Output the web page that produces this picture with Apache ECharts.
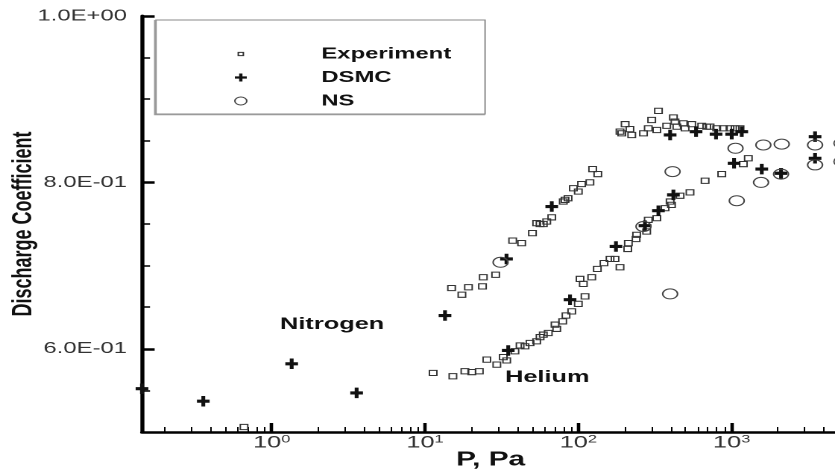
<!DOCTYPE html>
<html><head><meta charset="utf-8">
<script src="https://cdn.jsdelivr.net/npm/echarts@6/dist/echarts.min.js"></script>
<style>
html,body{margin:0;padding:0;overflow:hidden;background:#fff;width:835px;height:471px}
#c{width:560px;height:471px;transform-origin:0 0;transform:scaleX(1.49107);}
</style>
</head><body><div id="c"></div>
<script>
// ---- data (P in Pa, discharge coefficient) ----
const n2ExpP = [0.66, 14.9, 17.4, 19.2, 23.7, 24.0, 28.9, 37.3, 42.7, 50.2, 53.5, 56.3, 59.1, 62.2, 67.1, 79.8, 81.9, 85.7, 92.8, 100, 105, 119, 124, 134, 187, 192, 202, 217, 223, 266, 286, 301, 325, 333, 377, 417, 427, 439, 484, 497, 549, 638, 688, 723, 799, 883, 976, 1053, 1134];
const n2ExpC = [0.506, 0.673, 0.665, 0.674, 0.675, 0.686, 0.689, 0.730, 0.727, 0.739, 0.751, 0.750, 0.750, 0.753, 0.758, 0.777, 0.779, 0.781, 0.793, 0.789, 0.798, 0.800, 0.816, 0.810, 0.861, 0.859, 0.870, 0.864, 0.857, 0.859, 0.865, 0.875, 0.863, 0.886, 0.868, 0.878, 0.873, 0.867, 0.871, 0.865, 0.870, 0.868, 0.867, 0.867, 0.865, 0.865, 0.865, 0.865, 0.865];
const heExpP = [11.3, 15.2, 18.2, 20.2, 22.6, 25.3, 29.4, 32.4, 34.1, 38.6, 41.7, 44.9, 48.4, 53.5, 56.3, 59.1, 63.7, 70.5, 72.3, 79.1, 83.1, 90.6, 100, 110.6, 102.6, 107.8, 122.3, 133, 147, 161, 173.5, 187, 210, 212, 238, 240, 279, 286, 325, 368, 397, 405, 461, 535, 671, 862, 1192, 1285];
const heExpC = [0.571, 0.567, 0.573, 0.572, 0.573, 0.587, 0.581, 0.590, 0.586, 0.597, 0.604, 0.603, 0.607, 0.609, 0.614, 0.617, 0.619, 0.629, 0.624, 0.633, 0.640, 0.645, 0.654, 0.663, 0.684, 0.678, 0.686, 0.696, 0.703, 0.708, 0.708, 0.698, 0.720, 0.727, 0.732, 0.737, 0.741, 0.755, 0.757, 0.769, 0.777, 0.773, 0.784, 0.788, 0.802, 0.810, 0.822, 0.829];
const n2DsmcP = [0.1425, 0.358, 1.35, 3.58, 13.5, 34.0, 67.1, 397, 586, 791, 1001, 1164, 3500, 5200];
const n2DsmcC = [0.552, 0.537, 0.582, 0.547, 0.640, 0.708, 0.771, 0.857, 0.861, 0.858, 0.858, 0.861, 0.855, 0.856];
const heDsmcP = [34.9, 88.3, 176, 272, 333, 417, 1037, 1572, 2100, 3500, 5200];
const heDsmcC = [0.598, 0.659, 0.723, 0.748, 0.766, 0.785, 0.823, 0.816, 0.811, 0.829, 0.831];
const nsP = [31.1, 266, 397, 412, 1060, 1080, 1555, 1610, 2100, 2122, 3500, 3500, 5200, 5200];
const nsC = [0.704, 0.747, 0.666, 0.813, 0.841, 0.778, 0.800, 0.845, 0.810, 0.846, 0.845, 0.821, 0.847, 0.825];

const seriesNames = ['Experiment', 'DSMC', 'NS'];
const xTickValues = [1, 10, 100, 1000];
const xTickExps = ['0', '1', '2', '3'];
const xMinorTicks = [0.2,0.3,0.4,0.5,0.6,0.7,0.8,0.9, 2,3,4,5,6,7,8,9, 20,30,40,50,60,70,80,90, 200,300,400,500,600,700,800,900, 2000,3000,4000,5000,6000,7000,8000,9000];
const yTickValues = [0.6, 0.8, 1.0];
const yTickLabels = ['6.0E-01', '8.0E-01', '1.0E+00'];
const yMinorTicks = [0.55, 0.65, 0.7, 0.75, 0.85, 0.9, 0.95];
const xTitle = 'P, Pa';
const yTitle = 'Discharge Coefficient';
const notes = ['Nitrogen', 'Helium'];

const FONT = "'Liberation Sans', Arial, sans-serif";
const zip = (p, c) => p.map((v, i) => [v, c[i]]);
const PLUS = 'path://M3.5,0H6.5V3.5H10V6.5H6.5V10H3.5V6.5H0V3.5H3.5Z';

const chart = echarts.init(document.getElementById('c'), null, {renderer: 'canvas', devicePixelRatio: 2});
const XMIN = 0.1425, XMAX = 10000;
const baseX = {type: 'log', logBase: 10, min: XMIN, max: XMAX, gridIndex: 0, position: 'bottom', splitLine: {show: false}};
const baseY = {type: 'value', min: 0.5, max: 1.0, gridIndex: 0, position: 'left', splitLine: {show: false}};

chart.setOption({
  animation: false,
  backgroundColor: '#fff',
  grid: {left: 95.2, right: -33.5, top: 16, bottom: 39, outerBoundsMode: 'none', containLabel: false},
  xAxis: [
    Object.assign({}, baseX, {
      axisLine: {show: true, onZero: false, lineStyle: {color: '#000', width: 2.5}},
      axisTick: {show: true, inside: true, length: 9, customValues: xTickValues, lineStyle: {color: '#000', width: 2.3}},
      axisLabel: {show: true, margin: 2, customValues: xTickValues,
        formatter: v => '{b|10}{s|' + xTickExps[xTickValues.indexOf(Math.round(v))] + '}',
        rich: {b: {fontFamily: FONT, fontSize: 17, color: '#333', lineHeight: 18},
               s: {fontFamily: FONT, fontSize: 11, color: '#333', verticalAlign: 'top', lineHeight: 18}}}
    }),
    Object.assign({}, baseX, {
      axisLine: {show: false},
      axisTick: {show: true, inside: true, length: 5, customValues: xMinorTicks, lineStyle: {color: '#000', width: 1}},
      axisLabel: {show: false}
    })
  ],
  yAxis: [
    Object.assign({}, baseY, {
      name: yTitle, nameLocation: 'middle', nameRotate: 90, nameGap: 70, nameMoveOverlap: false,
      nameTextStyle: {fontFamily: FONT, fontSize: 18, fontWeight: 'bold', color: '#111'},
      axisLine: {show: true, onZero: false, lineStyle: {color: '#000', width: 2.7}},
      axisTick: {show: true, inside: true, length: 8.5, customValues: yTickValues, lineStyle: {color: '#000', width: 2.5}},
      axisLabel: {show: true, margin: 10, customValues: yTickValues, fontFamily: FONT, fontSize: 16, color: '#333',
        formatter: v => yTickLabels[yTickValues.findIndex(t => Math.abs(t - v) < 1e-6)]}
    }),
    Object.assign({}, baseY, {
      axisLine: {show: false},
      axisTick: {show: true, inside: true, length: 5.4, customValues: yMinorTicks, lineStyle: {color: '#000', width: 1.5}},
      axisLabel: {show: false}
    })
  ],
  legend: {
    orient: 'vertical', left: 155, top: 46, padding: 0, itemWidth: 12, itemHeight: 12, itemGap: 7.5,
    selectedMode: false,
    data: [
      {name: seriesNames[0], icon: 'path://M0,0M12,12M4.3,4.4H7.7V7.6H4.3Z', itemStyle: {color: 'transparent', borderColor: '#333', borderWidth: 1}},
      {name: seriesNames[1], icon: 'path://M0,0M12,12M4.9,2H7.1V4.9H10V7.1H7.1V10H4.9V7.1H2V4.9H4.9Z', itemStyle: {color: '#111', borderWidth: 0}},
      {name: seriesNames[2], icon: 'path://M0,0M12,12M10,6A4,4,0,1,1,2,6A4,4,0,1,1,10,6Z', itemStyle: {color: 'transparent', borderColor: '#444', borderWidth: 1}}
    ],
    formatter: name => '{sp|}{t|' + name + '}',
    textStyle: {rich: {sp: {width: 43}, t: {fontFamily: FONT, fontSize: 16, fontWeight: 'bold', color: '#111'}}}
  },
  graphic: [
    {type: 'rect', shape: {x: 104.6, y: 20, width: 220.7, height: 94}, style: {fill: 'none', stroke: '#8a8a8a', lineWidth: 1}, z: 1},
    {type: 'polyline', shape: {points: [[104.0, 20], [104.0, 114.6], [325.3, 114.6]]}, style: {fill: 'none', stroke: '#9a9a9a', lineWidth: 1.4}, z: 1},
    {type: 'text', left: 187.8, top: 316, style: {text: notes[0], font: 'bold 17px ' + FONT, fill: '#111'}, z: 5},
    {type: 'text', left: 338.7, top: 369, style: {text: notes[1], font: 'bold 17px ' + FONT, fill: '#111'}, z: 5},
    {type: 'text', x: 329, y: 460, style: {text: xTitle, font: 'bold 20px ' + FONT, fill: '#111', align: 'center', verticalAlign: 'middle'}, z: 5}
  ],
  series: [
    {name: seriesNames[0], type: 'scatter', clip: false, symbol: 'rect', symbolSize: [5, 5.2],
     itemStyle: {color: 'transparent', borderColor: '#333', borderWidth: 1, opacity: 1},
     data: zip(n2ExpP, n2ExpC).concat(zip(heExpP, heExpC))},
    {name: seriesNames[1], type: 'scatter', clip: false, symbol: PLUS, symbolSize: [8.5, 10.5],
     itemStyle: {color: '#111', opacity: 1},
     data: zip(n2DsmcP, n2DsmcC).concat(zip(heDsmcP, heDsmcC))},
    {name: seriesNames[2], type: 'scatter', clip: false, symbol: 'circle', symbolSize: 10,
     itemStyle: {color: 'transparent', borderColor: '#444', borderWidth: 1, opacity: 1},
     data: zip(nsP, nsC)}
  ]
});
</script>
</body></html>
